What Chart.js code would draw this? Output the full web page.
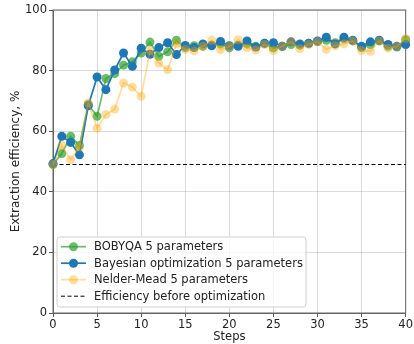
<!DOCTYPE html>
<html>
<head>
<meta charset="utf-8">
<script src="https://cdn.jsdelivr.net/npm/chart.js@4"></script>
<style>
html,body{margin:0;padding:0;background:#fff;}
canvas{display:block;}
</style>
</head>
<body>
<canvas id="c" width="414" height="344"></canvas>
<script>
const steps = Array.from({length: 41}, (_, i) => i);
const bobyqa = [49.0,52.6,58.3,55.3,68.8,64.9,77.4,79.0,81.8,82.9,85.8,89.4,84.7,86.2,90.0,87.6,88.2,88.0,88.4,88.8,87.5,88.4,88.8,88.0,89.0,87.5,88.0,88.6,88.4,89.0,89.6,90.0,89.2,90.5,89.8,87.6,88.6,89.8,88.0,87.8,90.2];
const bayes = [49.3,58.3,56.3,52.2,68.4,77.9,73.7,80.2,85.8,81.4,87.4,85.4,87.6,89.2,85.3,88.3,87.6,88.8,88.2,89.6,88.2,88.0,89.8,87.8,89.0,89.2,88.0,89.5,88.8,89.0,89.8,91.0,88.8,91.0,90.0,88.0,89.5,90.0,88.6,88.0,88.6];
const nelder = [49.0,55.3,50.6,54.8,69.3,61.0,65.5,67.3,75.9,74.5,71.5,86.5,82.5,80.3,88.8,87.0,86.5,88.0,90.0,86.9,88.0,90.2,87.5,86.8,88.6,86.6,88.0,89.5,87.2,88.6,89.5,87.0,88.2,88.8,89.8,86.6,86.4,89.8,87.4,88.0,90.6];
const baseline = 49;
const baselineX = [0, 40];
const xTicks = [0,5,10,15,20,25,30,35,40];
const yTicks = [0,20,40,60,80,100];
const labels = ["BOBYQA 5 parameters","Bayesian optimization 5 parameters","Nelder-Mead 5 parameters","Efficiency before optimization"];

const FONT = "'DejaVu Sans', sans-serif";
const toXY = arr => arr.map((v, i) => ({x: steps[i], y: v}));

const series = [
  {label: labels[0], data: toXY(bobyqa), color: 'rgba(44,160,44,0.7)', order: 3},
  {label: labels[1], data: toXY(bayes), color: 'rgba(31,119,180,1)', order: 2},
  {label: labels[2], data: toXY(nelder), color: 'rgba(255,165,0,0.38)', order: 1},
];

const datasets = series.map(s => ({
  label: s.label, data: s.data, borderColor: s.color, backgroundColor: s.color,
  pointBackgroundColor: s.color, pointBorderWidth: 0, pointRadius: 4.5, borderWidth: 1.7,
  tension: 0, clip: false, order: s.order
}));
datasets.push({
  label: labels[3], data: baselineX.map(x => ({x: x, y: baseline})),
  borderColor: '#000', borderWidth: 1, borderDash: [4, 2.5], pointRadius: 0, order: 4, clip: false
});

const framePlugin = {
  id: 'frame',
  beforeDatasetsDraw(chart) {
    const a = chart.chartArea, ctx = chart.ctx;
    ctx.save();
    ctx.strokeStyle = '#666'; ctx.lineWidth = 1;
    ctx.strokeRect(a.left, a.top, a.right - a.left, a.bottom - a.top);
    ctx.restore();
  }
};

const legendPlugin = {
  id: 'customLegend',
  afterDraw(chart) {
    const ctx = chart.ctx;
    const bx = 57, by = 237, bw = 249, bh = 70, r = 3;
    ctx.save();
    ctx.beginPath();
    ctx.moveTo(bx + r, by);
    ctx.lineTo(bx + bw - r, by); ctx.quadraticCurveTo(bx + bw, by, bx + bw, by + r);
    ctx.lineTo(bx + bw, by + bh - r); ctx.quadraticCurveTo(bx + bw, by + bh, bx + bw - r, by + bh);
    ctx.lineTo(bx + r, by + bh); ctx.quadraticCurveTo(bx, by + bh, bx, by + bh - r);
    ctx.lineTo(bx, by + r); ctx.quadraticCurveTo(bx, by, bx + r, by);
    ctx.closePath();
    ctx.fillStyle = 'rgba(255,255,255,0.8)'; ctx.fill();
    ctx.strokeStyle = '#d0d0d0'; ctx.lineWidth = 1; ctx.stroke();
    const dsList = chart.data.datasets;
    dsList.forEach((ds, i) => {
      const y = 246.7 + i * 16.5;
      ctx.beginPath();
      ctx.setLineDash(ds.borderDash || []);
      ctx.strokeStyle = ds.borderColor; ctx.lineWidth = ds.borderWidth;
      ctx.moveTo(61, y); ctx.lineTo(86, y); ctx.stroke();
      ctx.setLineDash([]);
      if (ds.pointRadius > 0) {
        ctx.beginPath(); ctx.fillStyle = ds.pointBackgroundColor;
        ctx.arc(73.5, y, 4.5, 0, Math.PI * 2); ctx.fill();
      }
      ctx.fillStyle = '#222'; ctx.font = '11.5px ' + FONT; ctx.textBaseline = 'middle'; ctx.textAlign = 'left';
      ctx.fillText(ds.label, 94, y + 0.5);
    });
    ctx.restore();
  }
};

new Chart(document.getElementById('c'), {
  type: 'line',
  data: {datasets},
  plugins: [framePlugin, legendPlugin],
  options: {
    responsive: false, devicePixelRatio: 1, animation: false,
    layout: {padding: {left: 0, right: 8, top: 10, bottom: 0}},
    plugins: {legend: {display: false}, tooltip: {enabled: false}},
    scales: {
      x: {
        type: 'linear', min: 0, max: 40,
        afterBuildTicks: s => { s.ticks = xTicks.map(v => ({value: v})); },
        afterFit: s => { s.height = 31; },
        ticks: {font: {family: FONT, size: 11.5}, color: '#222', padding: 1, maxRotation: 0},
        grid: {color: 'rgba(0,0,0,0.14)', tickColor: '#555', tickLength: 4, lineWidth: 1},
        border: {display: true, color: '#666'},
        title: {display: true, text: 'Steps', font: {family: FONT, size: 11.5}, color: '#222', padding: {top: 0, bottom: 0}}
      },
      y: {
        min: 0, max: 100,
        afterBuildTicks: s => { s.ticks = yTicks.map(v => ({value: v})); },
        afterFit: s => { s.width = 53; },
        ticks: {font: {family: FONT, size: 11.5}, color: '#222', padding: 2},
        grid: {color: 'rgba(0,0,0,0.14)', tickColor: '#555', tickLength: 4, lineWidth: 1},
        border: {display: true, color: '#666'},
        title: {display: true, text: 'Extraction efficiency, %', font: {family: FONT, size: 12}, color: '#222', padding: {top: 9, bottom: 0}}
      }
    }
  }
});
</script>
</body>
</html>
